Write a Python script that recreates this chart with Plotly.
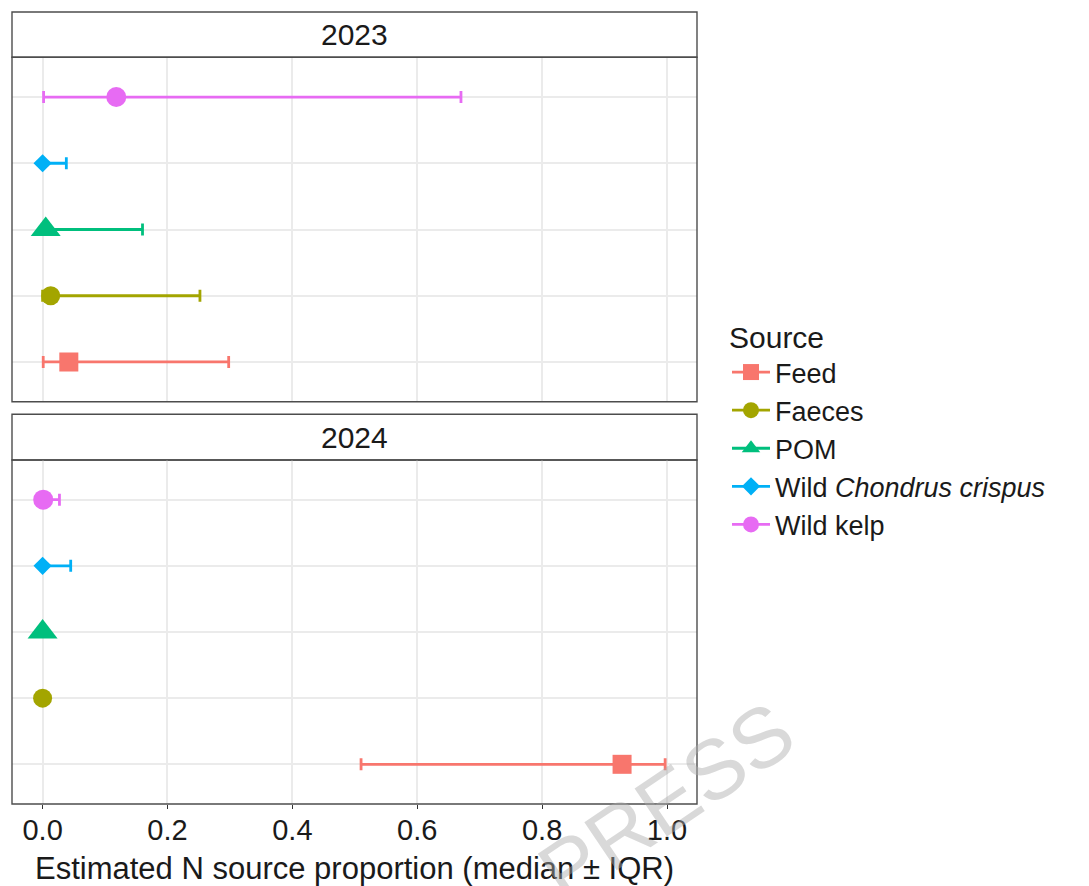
import plotly.graph_objects as go

# ---- data ----
sources = ["Feed", "Faeces", "POM", "Wild Chondrus crispus", "Wild kelp"]
legend_names = ["Feed", "Faeces", "POM", "Wild <i>Chondrus crispus</i>", "Wild kelp"]
years = ["2023", "2024"]

med_2023 = [0.042, 0.013, 0.005, 0.000, 0.118]
lo_2023 = [0.001, 0.000, 0.000, 0.000, 0.0016]
hi_2023 = [0.298, 0.252, 0.160, 0.038, 0.670]

med_2024 = [0.928, 0.000, 0.000, 0.000, 0.001]
lo_2024 = [0.510, 0.000, 0.000, 0.000, 0.000]
hi_2024 = [0.997, 0.001, 0.002, 0.045, 0.027]

colors = ["#F8766D", "#A3A500", "#00BF7D", "#00B0F6", "#E76BF3"]
symbols = ["square", "circle", "triangle-up", "diamond", "circle"]
sizes = [19, 19, 26, 14, 20]

x_ticks = [0.0, 0.2, 0.4, 0.6, 0.8, 1.0]
x_ticklabels = ["0.0", "0.2", "0.4", "0.6", "0.8", "1.0"]

FONT = "Liberation Sans, Arial, sans-serif"

fig = go.Figure()

panel_data = [(med_2023, lo_2023, hi_2023, "x2", "y2"), (med_2024, lo_2024, hi_2024, "x", "y")]

for p, (med, lo, hi, xa, ya) in enumerate(panel_data):
    for i, s in enumerate(sources):
        fig.add_trace(go.Scatter(
            x=[med[i]], y=[s],
            xaxis=xa, yaxis=ya,
            mode="lines+markers",
            name=legend_names[i],
            legendgroup=s,
            showlegend=(p == 0),
            marker=dict(color=colors[i], symbol=symbols[i], size=sizes[i], line=dict(width=0)),
            line=dict(color=colors[i], width=2.8),
            error_x=dict(type="data", symmetric=False,
                         array=[hi[i] - med[i]], arrayminus=[med[i] - lo[i]],
                         color=colors[i], thickness=2.8, width=6),
            hoverinfo="x+name",
        ))

W, H = 1089, 886
ml, mr, mt, mb = 12, 392, 12, 82
ph = H - mt - mb  # 792

def dom(top_px, bot_px):
    return [(H - mb - bot_px) / ph, (H - mb - top_px) / ph]

d_top = dom(57.3, 401.7)
d_bot = dom(460, 804)

xr = [-0.049, 1.048]
ycat = dict(type="category", categoryorder="array", categoryarray=sources,
            range=[-0.6, 4.6], showticklabels=False, ticks="",
            showgrid=True, gridcolor="#EBEBEB", gridwidth=1.5, zeroline=False, showline=False)

fig.update_layout(
    width=W, height=H,
    margin=dict(l=ml, r=mr, t=mt, b=mb, pad=0),
    paper_bgcolor="white", plot_bgcolor="white",
    font=dict(family=FONT, color="#1a1a1a", size=28),
    xaxis=dict(domain=[0, 1], anchor="y", range=xr, tickvals=x_ticks, ticktext=x_ticklabels,
               ticks="outside", ticklen=4, tickwidth=1.2, tickcolor="#333333",
               ticklabelstandoff=-4,
               tickfont=dict(size=29, color="#1a1a1a", family=FONT),
               showgrid=True, gridcolor="#EBEBEB", gridwidth=1.5, zeroline=False, showline=False),
    xaxis2=dict(domain=[0, 1], anchor="y2", range=xr, tickvals=x_ticks, matches="x",
                showticklabels=False, ticks="",
                showgrid=True, gridcolor="#EBEBEB", gridwidth=1.5, zeroline=False, showline=False),
    yaxis=dict(domain=d_bot, anchor="x", **ycat),
    yaxis2=dict(domain=d_top, anchor="x2", **ycat),
    legend=dict(
        title=dict(text="Source", font=dict(size=30, color="#1a1a1a", family=FONT)),
        font=dict(size=27, color="#1a1a1a", family=FONT),
        x=(727 - ml) / (W - ml - mr), xanchor="left",
        y=(H - mb - 309) / ph, yanchor="top",
        bgcolor="rgba(0,0,0,0)", borderwidth=0,
        tracegroupgap=0, itemsizing="trace", itemwidth=38,
    ),
    showlegend=True,
)

# panel borders and strips
strip_h_top = (57.3 - 12) / (401.7 - 57.3)
strip_h_bot = (460 - 414.3) / (804 - 460)
shapes = []
annotations = []
for xa, ya, sh, label in [("x2", "y2", strip_h_top, years[0]), ("x", "y", strip_h_bot, years[1])]:
    shapes.append(dict(type="rect", xref=f"{xa} domain", yref=f"{ya} domain",
                       x0=0, x1=1, y0=1, y1=1 + sh,
                       line=dict(color="#4d4d4d", width=1.4), fillcolor="white", layer="below"))
    shapes.append(dict(type="rect", xref=f"{xa} domain", yref=f"{ya} domain",
                       x0=0, x1=1, y0=0, y1=1,
                       line=dict(color="#4d4d4d", width=1.4), fillcolor="rgba(0,0,0,0)", layer="above"))
    annotations.append(dict(text=label, xref=f"{xa} domain", yref=f"{ya} domain",
                            x=0.5, y=1 + sh / 2, xanchor="center", yanchor="middle",
                            showarrow=False, font=dict(size=30, color="#1a1a1a", family=FONT)))

# x-axis title
annotations.append(dict(text="Estimated N source proportion (median ± IQR)",
                        xref="paper", yref="paper", x=0.5, y=(H - mb - 868) / ph,
                        xanchor="center", yanchor="middle", showarrow=False,
                        font=dict(size=31, color="#1a1a1a", family=FONT)))

# watermark
annotations.append(dict(text="PRESS", xref="paper", yref="paper",
                        x=(666 - ml) / (W - ml - mr), y=(H - mb - 802) / ph,
                        xanchor="center", yanchor="middle", showarrow=False, textangle=-34,
                        font=dict(size=84, color="rgba(170,170,170,0.45)", family=FONT)))

fig.update_layout(shapes=shapes, annotations=annotations)

fig.write_html("out.html")
